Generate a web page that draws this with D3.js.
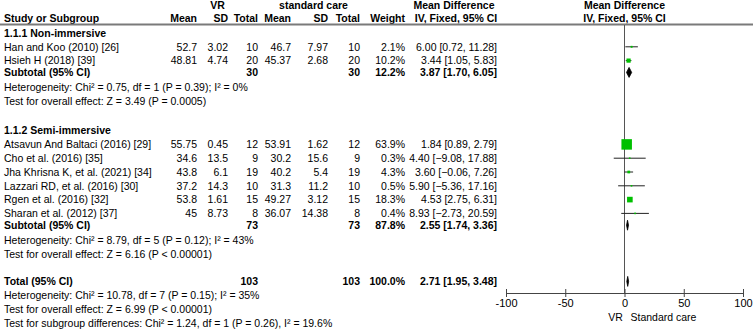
<!DOCTYPE html>
<html>
<head>
<meta charset="utf-8">
<script src="https://cdn.jsdelivr.net/npm/d3@7"></script>
<style>
  body { margin: 0; background: #fff; }
  svg text { font-family: Arial, "Liberation Sans", sans-serif; font-size: 10.5px; fill: #000; }
</style>
</head>
<body>
<svg id="chart" width="753" height="330"></svg>
<script>
// ---- data ----
const studies = [
    'Han and Koo (2010) [26]', 'Hsieh H (2018) [39]',
    'Atsavun And Baltaci (2016) [29]', 'Cho et al. (2016) [35]',
    'Jha Khrisna K, et al. (2021) [34]', 'Lazzari RD, et al. (2016) [30]',
    'Rgen et al. (2016) [32]', 'Sharan et al. (2012) [37]'
];
const groupOf = [0, 0, 1, 1, 1, 1, 1, 1];
const vrMean = ['52.7', '48.81', '55.75', '34.6', '43.8', '37.2', '53.8', '45'];
const vrSD = ['3.02', '4.74', '0.45', '13.5', '6.1', '14.3', '1.61', '8.73'];
const vrN = [10, 20, 12, 9, 19, 10, 15, 8];
const scMean = ['46.7', '45.37', '53.91', '30.2', '40.2', '31.3', '49.27', '36.07'];
const scSD = ['7.97', '2.68', '1.62', '15.6', '5.4', '11.2', '3.12', '14.38'];
const scN = [10, 20, 12, 9, 19, 10, 15, 8];
const weight = [2.1, 10.2, 63.9, 0.3, 4.3, 0.5, 18.3, 0.4];
const md = [6.00, 3.44, 1.84, 4.40, 3.60, 5.90, 4.53, 8.93];
const ciLo = [0.72, 1.05, 0.89, -9.08, -0.06, -5.36, 2.75, -2.73];
const ciHi = [11.28, 5.83, 2.79, 17.88, 7.26, 17.16, 6.31, 20.59];

const groupNames = ['1.1.1 Non-immersive', '1.1.2 Semi-immersive'];
const subN1 = [30, 73];
const subN2 = [30, 73];
const subWeight = [12.2, 87.8];
const subMd = [3.87, 2.55];
const subLo = [1.70, 1.74];
const subHi = [6.05, 3.36];
const subHet = [
    'Heterogeneity: Chi² = 0.75, df = 1 (P = 0.39); I² = 0%',
    'Heterogeneity: Chi² = 8.79, df = 5 (P = 0.12); I² = 43%'
];
const subTest = [
    'Test for overall effect: Z = 3.49 (P = 0.0005)',
    'Test for overall effect: Z = 6.16 (P < 0.00001)'
];
const total = { n1: 103, n2: 103, w: 100.0, md: 2.71, lo: 1.95, hi: 3.48 };
const totalNotes = [
    'Heterogeneity: Chi² = 10.78, df = 7 (P = 0.15); I² = 35%',
    'Test for overall effect: Z = 6.99 (P < 0.00001)',
    'Test for subgroup differences: Chi² = 1.24, df = 1 (P = 0.26), I² = 19.6%'
];
const axisTicks = [-100, -50, 0, 50, 100];
const favourLeft = 'VR';
const favourRight = 'Standard care';

// ---- layout ----
const svg = d3.select('#chart');
const GREEN = '#00c000';
const col = {
    name: 4, vrMean: 197, vrSD: 228, vrN: 258,
    scMean: 291, scSD: 328, scN: 360, weight: 405, ci: 497
};
const x = d3.scaleLinear().domain([-100, 100]).range([506, 743]);
const sizeScale = d3.scaleSqrt().domain([0, 63.9]).range([0, 10.5]);

// build row list with vertical positions
const rows = [];
let y = 33;
const PITCH = 13.8;
groupNames.forEach((g, gi) => {
    rows.push({ type: 'group', text: g, y: y });
    y += PITCH;
    studies.forEach((s, i) => {
        if (groupOf[i] !== gi) return;
        rows.push({ type: 'study', i: i, y: y });
        y += PITCH;
    });
    y -= 2;
    rows.push({ type: 'sub', gi: gi, y: y });
    y += PITCH + 1;
    rows.push({ type: 'note', text: subHet[gi], y: y });
    y += PITCH;
    rows.push({ type: 'note', text: subTest[gi], y: y });
    y += PITCH * 2 + 2;
});
y -= 2;
rows.push({ type: 'total', y: y });
y += PITCH;
totalNotes.forEach(t => {
    rows.push({ type: 'note', text: t, y: y });
    y += PITCH;
});

const fmt2 = d3.format('.2f');
const ciText = (m, l, h) => `${fmt2(m)} [${fmt2(l)}, ${fmt2(h)}]`;

function txt(xp, yp, s, anchor, bold) {
    svg.append('text')
        .attr('x', xp)
        .attr('y', yp + 3.8)
        .attr('text-anchor', anchor || 'start')
        .attr('font-weight', bold ? 'bold' : 'normal')
        .text(s);
}

// ---- headers ----
const H1 = 5.5, H2 = 18;
txt((177 + col.vrN) / 2, H1, 'VR', 'middle', true);
txt((267 + col.scN) / 2, H1, 'standard care', 'middle', true);
txt(454, H1, 'Mean Difference', 'middle', true);
txt(x(0), H1, 'Mean Difference', 'middle', true);
txt(col.name, H2, 'Study or Subgroup', 'start', true);
txt(col.vrMean, H2, 'Mean', 'end', true);
txt(col.vrSD, H2, 'SD', 'end', true);
txt(col.vrN, H2, 'Total', 'end', true);
txt(col.scMean, H2, 'Mean', 'end', true);
txt(col.scSD, H2, 'SD', 'end', true);
txt(col.scN, H2, 'Total', 'end', true);
txt(col.weight, H2, 'Weight', 'end', true);
txt(456, H2, 'IV, Fixed, 95% CI', 'middle', true);
txt(x(0), H2, 'IV, Fixed, 95% CI', 'middle', true);

svg.append('line')
    .attr('x1', 0).attr('x2', 753)
    .attr('y1', 24.5).attr('y2', 24.5)
    .attr('stroke', '#7a7a7a')
    .attr('stroke-width', 2);

// ---- axis ----
const axisY = 293;
svg.append('line')
    .attr('x1', x(0)).attr('x2', x(0))
    .attr('y1', 25).attr('y2', axisY)
    .attr('stroke', '#555')
    .attr('stroke-width', 1);

const axis = svg.append('g')
    .attr('transform', `translate(0,${axisY})`)
    .call(d3.axisBottom(x).tickValues(axisTicks).tickSize(4).tickSizeOuter(0).tickFormat(d => String(d)));
axis.select('.domain').attr('stroke', '#444');
axis.selectAll('.tick line').attr('stroke', '#444').attr('y1', -4);
axis.selectAll('.tick text')
    .attr('y', 6)
    .style('font-family', 'Arial, "Liberation Sans", sans-serif')
    .style('font-size', '11px')
    .attr('fill', '#000');

txt(x(0) - 9, 317, favourLeft, 'middle', false);
txt(x(0) + 6, 317, favourRight, 'start', false);

// ---- rows ----
function diamond(m, l, h, yc) {
    const hh = 5;
    svg.append('path')
        .attr('d', `M${x(l)},${yc} L${x(m)},${yc - hh} L${x(h)},${yc} L${x(m)},${yc + hh} Z`)
        .attr('fill', '#000')
        .attr('stroke', '#000')
        .attr('stroke-width', 0.8);
}

rows.forEach(r => {
    if (r.type === 'group') {
        txt(col.name, r.y, r.text, 'start', true);
    } else if (r.type === 'note') {
        txt(col.name, r.y, r.text, 'start', false);
    } else if (r.type === 'study') {
        const i = r.i;
        txt(col.name, r.y, studies[i]);
        txt(col.vrMean, r.y, vrMean[i], 'end');
        txt(col.vrSD, r.y, vrSD[i], 'end');
        txt(col.vrN, r.y, vrN[i], 'end');
        txt(col.scMean, r.y, scMean[i], 'end');
        txt(col.scSD, r.y, scSD[i], 'end');
        txt(col.scN, r.y, scN[i], 'end');
        txt(col.weight, r.y, weight[i].toFixed(1) + '%', 'end');
        txt(col.ci, r.y, ciText(md[i], ciLo[i], ciHi[i]), 'end');
        svg.append('line')
            .attr('x1', x(ciLo[i])).attr('x2', x(ciHi[i]))
            .attr('y1', r.y).attr('y2', r.y)
            .attr('stroke', '#222')
            .attr('stroke-width', 1);
        const s = Math.max(sizeScale(weight[i]), 1.6);
        svg.append('rect')
            .attr('x', x(md[i]) - s / 2)
            .attr('y', r.y - s / 2)
            .attr('width', s)
            .attr('height', s)
            .attr('fill', GREEN);
    } else if (r.type === 'sub') {
        const gi = r.gi;
        txt(col.name, r.y, 'Subtotal (95% CI)', 'start', true);
        txt(col.vrN, r.y, subN1[gi], 'end', true);
        txt(col.scN, r.y, subN2[gi], 'end', true);
        txt(col.weight, r.y, subWeight[gi].toFixed(1) + '%', 'end', true);
        txt(col.ci, r.y, ciText(subMd[gi], subLo[gi], subHi[gi]), 'end', true);
        diamond(subMd[gi], subLo[gi], subHi[gi], r.y);
    } else if (r.type === 'total') {
        txt(col.name, r.y, 'Total (95% CI)', 'start', true);
        txt(col.vrN, r.y, total.n1, 'end', true);
        txt(col.scN, r.y, total.n2, 'end', true);
        txt(col.weight, r.y, total.w.toFixed(1) + '%', 'end', true);
        txt(col.ci, r.y, ciText(total.md, total.lo, total.hi), 'end', true);
        diamond(total.md, total.lo, total.hi, r.y);
    }
});
</script>
</body>
</html>
